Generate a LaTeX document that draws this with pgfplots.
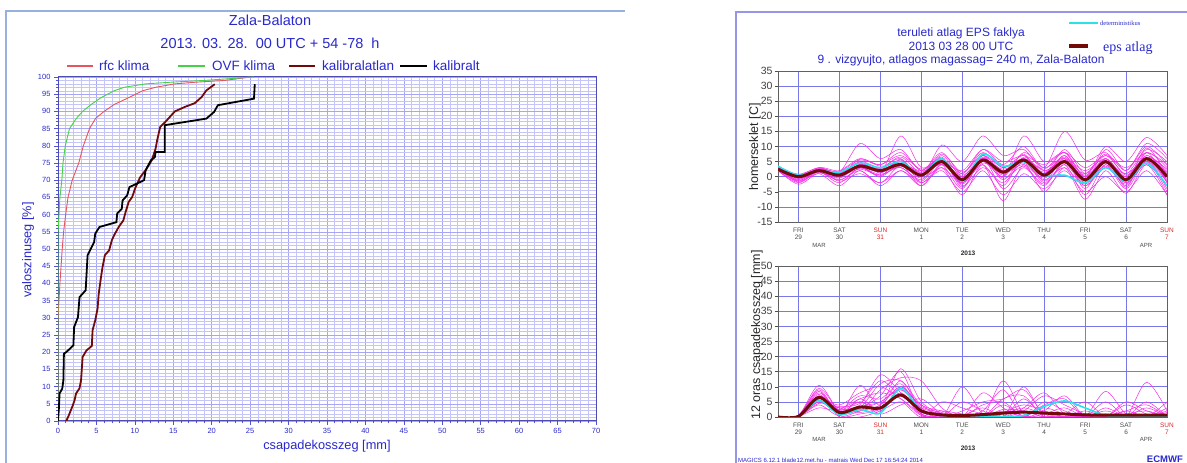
\documentclass[border=0pt]{standalone}
\usepackage{pgfplots}
\pgfplotsset{compat=1.18}
\usepackage{pgfplotstable}
\usepackage{fontspec}
\setmainfont{Liberation Sans}
\newfontfamily\seriffont{Liberation Serif}
\definecolor{tblue}{RGB}{40,40,205}
\definecolor{gridb}{RGB}{120,120,235}
\definecolor{gridl}{RGB}{150,150,240}
\definecolor{rfc}{RGB}{230,85,95}
\definecolor{ovf}{RGB}{70,210,70}
\definecolor{maroon}{RGB}{115,10,10}
\definecolor{ens}{RGB}{245,45,230}
\definecolor{det}{RGB}{40,225,235}
\definecolor{frameL}{RGB}{150,178,220}
\definecolor{frameR}{RGB}{150,150,230}
\definecolor{sunred}{RGB}{220,40,40}
\newcommand{\fs}[1]{\fontsize{#1}{#1}\selectfont}
\pgfplotsset{/pgf/number format/assume math mode=true}

\pgfplotstableread{
x y
0 0
0 30
0.25 40
0.55 50
0.73 55
1.0 60
1.3 65
1.85 70
2.7 75
3.3 80
4.1 85
4.9 88
6.0 90
7.3 92
9.2 94
11 96
12.7 97
15.2 98
18 98.5
21.7 99
25 100
}\rfcdata

\pgfplotstableread{
x y
0 0
0 55
0.13 60
0.25 65
0.5 70
0.65 75
0.95 80
1.5 85
2.4 88
3.2 90
4.3 92
5.6 94
7.3 96
8.6 97
11.4 98
14.8 98.5
19 99
25.5 100
}\ovfdata

\pgfplotstableread{
x y
1.07 0
1.4 1.6
1.85 4.1
2.15 6
2.35 8
2.8 9.5
3.0 11.8
3.2 18.6
3.7 20.5
4.4 21.8
4.5 26.4
4.85 29.3
5.15 32.7
5.3 37
5.6 41.9
5.8 44.8
6.1 48.2
6.65 49.6
7.0 52.5
7.3 54
7.9 56.4
8.5 58.3
8.8 60.8
9.2 63.7
9.65 65.1
10.1 68
10.7 70.9
11.4 72.9
12.2 75.8
12.7 79.2
12.9 81.6
13.3 85.5
13.95 86.9
15.2 90
16.5 91.3
17.8 92.4
18.7 94.2
19.3 96.1
20.4 97.9
}\kalatlan

\pgfplotstableread{
x y
0 0
0.13 4.1
0.2 8
0.55 9.4
0.7 11.8
0.77 19.6
1.07 20
2.0 22
2.1 27.3
2.6 30.2
2.8 36
3.6 38
3.85 48.2
4.7 52
4.85 54.5
5.4 56.4
7.6 57.8
7.7 60.3
8.3 61.7
8.4 64.1
9.0 65.6
9.3 68
11.2 70
11.4 72.9
12.1 75.8
12.6 76.7
12.7 78.2
13.9 78.2
13.9 86
19.3 87.9
20.3 89.8
20.8 91.8
25.5 93.7
25.6 97.9
}\kal

\pgfplotstableread{
h mean det m1 m2 m3 m4 m5 m6 m7 m8 m9 m10 m11 m12 m13 m14 m15 m16 m17 m18 m19 m20
12 2.5 3.5 3 2 3.5 2 2.8 2.2 3 2.5 2.3 2.7 2.4 2.6 2.1 3.2 2.9 2.4 2.0 3.3 2.6 3.1
24 0 0.5 -0.5 -2 0.5 -1.5 0 -0.5 0.8 -1 0.3 -0.3 -1.2 0.2 -2.5 0.6 -1.8 0.8 -0.8 0.1 -1.4 0.4
36 2 2 2.5 1.5 3 1 2 2.2 1.5 3 2.3 2.7 1.8 2.6 1.2 2.4 2.1 2.9 1.6 2.2 2.5 1.9
48 0.5 1.5 1.5 -2 1 -3 0 0.8 -1 2 -1.5 1.2 0.2 0.5 -0.5 1.8 0.6 1.4 -1.2 0.3 1.0 -0.3
60 3.5 4.5 11 3 5 2 4 3 2 6 1 4.5 2.5 4 3.5 5.5 4.8 3.8 2.8 5.8 3.2 4.2
72 2 3 6 1 3 -3 2 1.5 -2 4 -2 3 0.5 2.5 0 4 1.2 2.8 0.8 3.5 0.2 2.2
84 4 5 9 13.5 6 2 5 3 4 8 2 5 3.5 4.5 4 7 5.5 6.5 3 4.5 5.8 3.8
96 0.5 0.5 2 3 0 -3 1 -1 2 2 -2 0.5 -0.5 1.5 -3 2.5 0 1.2 -1.5 0.8 -2 0.3
108 5 6 8 6 10.5 3 4 5.5 6 4 2 7 3 5 4 5 6.5 4.5 5 7.5 4.2 5.8
120 -1 -1.5 1 -2 5 -6 -1 -3 1 -4 -5 0 -2 0 -1 2 -2.5 0.5 -2 1.5 -0.5 -3.5
132 5.5 7.5 9 7 13.5 4 6 3 8 6 2 5 4.5 7 6 9 6.5 5.5 4 7 5 6.2
144 1.5 3.5 4 0 7 -8 2 -2 3 -4 -6 0 1 3 -1 5 0.5 2.5 -3 2 1.5 -0.5
156 5.5 5 10 13.5 9 4 6 5 7 3 1 8 4 6 6 7 7.5 5 6.5 4.5 6 3.5
168 0.5 0.5 3 5 2 -5 1 -2 1 -3 -4 3 -1 2 0 4 -1.5 1.5 1 -0.5 2.5 -2.5
180 5 0.5 15 8 6 3 7 4 9 5 2 6 3 5 7 8 6 4.5 6.5 5.5 8 4
192 -1 -2 5.5 0 2 -7.5 -1 -6 1 -3 -5 -2 -3 0 -2 3 -4 0.5 -1.5 1 0 -2.5
204 5 3 8 10 6 2 5 4 7 4 0 9 3 6 6 7 6 4.5 3.5 7.5 5.5 4.8
216 -1 -1.5 2 5 0 -5.5 -1 -3 1 -4 -5 2 -2 0 -2 3 -3.5 1 -2.5 0.5 -1.5 -0.8
228 6 4.5 10 13 8 4 7 6 9 5 2 11 4 7 5 8 8 6 5.5 6.5 9.5 4.5
240 0 -3 4 7 3 -6 1 -2 5 -5 -6 6 -3 2 -1 4 -2 1.5 -4 2.5 0.5 -1.5
}\temps

\pgfplotstableread{
h mean det p1 p2 p3 p4 p5 p6 p7 p8 p9 p10 p11 p12 p13 p14 p15 p16 p17 p18
12 0 0 0 0 0 0 0 0 0 0 0 0 0 0 0 0 0 0 0 0
24 0.2 0.2 0.5 0.2 0.3 0.1 0.4 0 0.6 0.2 0.3 0.1 0.5 0.2 0.3 0.1 0.4 0.2 0.3 0.2
36 6.5 5.5 10.5 7 5 4 8 6 9 3 6.5 5 7.5 4.5 6 5.5 8.5 7 5 9.5
48 1.5 0.8 2 1 3 0.5 1.5 4 0.5 2 1 2.5 0 3.5 2.5 1.5 0.5 3 1 2
60 3.3 2.5 4 10.5 2 6 3 8 1 5 2.5 7 0 4.5 3.5 5 2 6 3 1.5
72 3 1.3 14 4 9 2 7 10 3 1 5 6 2 12 5 2.5 4 8 11 3
84 7.3 9.5 8 16 13 10 15 6 12 4 9 11 5 7 9 8 10 6 12 7.5
96 2 2 2 5 12 3 1 0.5 2 6 4 1.5 0 3 2.5 1 3.5 1 4 0.5
108 0.7 0.5 0.5 1 3 0 0.5 0 0 1 0 2 5 1 0.5 0 1.5 0 2 0
120 0.5 0 0 0 0 10 0 0 2 0 0 1 3 0 0 0.5 0 5 0 0
132 0.8 0 0 0 1 1 8 0 5 0 2 0 1 0 0 3 0 2 0 4
144 1.3 0.2 1 2 0 0 3 12 6 0 9 0 0 4 1.5 0 6 0 2.5 5
156 1.6 0.5 3 0 0 10 0 1 9 3 0 6 2 0 4 0 7 0 2 0
168 1.3 3.5 1 0 0 0 2 0 1 8 5 0 7 0 2 3 0 4 0 1
180 1 5.3 0 1 0 0 7 0 0 1 2 0 4 0 0 1 0 6 0 3
192 0.7 3 0 5 0 0 0 0 0 0 0 0 1 0 0 0 2 0 0 0
204 0.6 0.5 1 0 0 8.5 0 0 2 0 0 0 0 5 0 0 0 3 0 1
216 0.6 0 0 0 4 1 0 5 0 0 2 0 0 0 2 0 0 0 1 0
228 0.6 0 0 11.5 1 0 0 2 0 0 4 0 3 0 0 5 0 0 2 0
240 0.6 0 0 2 0 5 0 0 3 0 0 1 0 0 1 0 0 2 0 1.5
}\precip

\pgfplotsset{
  ecm/.style={
    anchor=south west, scale only axis, width=389pt, height=151pt,
    xmin=12, xmax=240,
    xtick={24,48,...,240},
    xticklabels={{FRI\\29},{SAT\\30},{\textcolor{sunred}{SUN}\\\textcolor{sunred}{31}},{MON\\1},{TUE\\2},{WED\\3},{THU\\4},{FRI\\5},{SAT\\6},{\textcolor{sunred}{SUN}\\\textcolor{sunred}{7}}},
    grid=major,
    major grid style={gridb, line width=0.7pt},
    axis line style={gray!75!black, line width=0.8pt},
    xtick pos=bottom, ytick pos=left,
    tick align=outside, major tick length=3pt,
    xtick style={draw=none},
    ytick style={gray!60!black, line width=0.5pt},
    xticklabel style={font=\fontsize{6.5}{7}\selectfont, align=center, text=black!70, yshift=1pt},
    yticklabel style={font=\fs{10.5}, text=black!75, xshift=1pt},
    ytick distance=5,
  },
  ensl/.style={ens, line width=0.5pt, smooth},
  meanl/.style={maroon, line width=3pt, smooth},
  detl/.style={det, line width=1.6pt, smooth},
}

\begin{document}
\begin{tikzpicture}[x=1pt,y=1pt]
\path[use as bounding box] (0,0) rectangle (1187,463);

% ---------- left panel ----------
\draw[frameL, line width=2pt] (6,-2) -- (6,452) -- (625,452);
\node[text=tblue, font=\fs{14.5}] at (270,443) {Zala-Balaton};
\node[text=tblue, font=\fs{14.5}] at (270,420) {2013. 03. 28.\ \ 00 UTC + 54 -78\ \ h};

\begin{axis}[
  at={(58pt,42pt)}, anchor=south west, scale only axis,
  width=538pt, height=344pt,
  xmin=0, xmax=70, ymin=0, ymax=100,
  xtick distance=5, ytick distance=5,
  minor x tick num=4, minor y tick num=4,
  grid=both,
  major grid style={gridl!85, line width=0.55pt},
  minor grid style={gridl!55, line width=0.45pt},
  tick pos=left,
  tick align=outside, major tick length=4pt, minor tick length=2.5pt,
  tick style={tblue!80, line width=0.5pt},
  axis line style={gray!60!blue, line width=1pt},
  ticklabel style={font=\fs{7.5}, text=tblue},
]
\addplot[rfc, line width=0.9pt] table[x=x,y=y]{\rfcdata};
\addplot[ovf, line width=0.9pt] table[x=x,y=y]{\ovfdata};
\addplot[maroon, line width=1.8pt] table[x=x,y=y]{\kalatlan};
\addplot[black, line width=1.8pt] table[x=x,y=y]{\kal};
\end{axis}

% legend (left)
\draw[rfc, line width=1.2pt] (67,397) -- (93,397);
\node[anchor=west, text=tblue, font=\fs{13.5}, inner sep=0] at (99,397) {rfc klima};
\draw[ovf, line width=1.2pt] (178,397) -- (205,397);
\node[anchor=west, text=tblue, font=\fs{13.5}, inner sep=0] at (212,397) {OVF klima};
\draw[maroon, line width=1.6pt] (289,397) -- (315,397);
\node[anchor=west, text=tblue, font=\fs{13.5}, inner sep=0] at (322,397) {kalibralatlan};
\draw[black, line width=1.6pt] (400,397) -- (427,397);
\node[anchor=west, text=tblue, font=\fs{13.5}, inner sep=0] at (433,397) {kalibralt};

\node[rotate=90, text=tblue, font=\fs{12.7}] at (28,213) {valoszinuseg [\%]};
\node[text=tblue, font=\fs{12.8}] at (327,17) {csapadekosszeg [mm]};

% ---------- right panel ----------
\draw[frameR, line width=1.2pt] (736,-2) -- (736,451) -- (1190,451);
\node[text=tblue, font=\fs{12}] at (961,430) {teruleti atlag EPS faklya};
\node[text=tblue, font=\fs{12}] at (961,417) {2013 03 28 00 UTC};
\node[text=tblue, font=\fs{12}] at (961,403) {9 . vizgyujto, atlagos magassag= 240 m, Zala-Balaton};

\draw[det, line width=2pt] (1069,440) -- (1098,440);
\node[anchor=west, inner sep=0, text=tblue, font=\seriffont\fs{6.5}] at (1100,439.5) {deterministikus};
\draw[maroon, line width=3.2pt] (1069,417) -- (1088,417);
\node[anchor=west, inner sep=0, text=tblue, font=\seriffont\fs{14}] at (1103,415) {eps atlag};

\begin{axis}[ecm, at={(778pt,241pt)}, ymin=-15, ymax=35]
\pgfplotsinvokeforeach{1,...,20}{\addplot[ensl] table[x=h,y=m#1]{\temps};}
\addplot[detl] table[x=h,y=det]{\temps};
\addplot[meanl] table[x=h,y=mean]{\temps};
\end{axis}

\begin{axis}[ecm, at={(778pt,46pt)}, ymin=0, ymax=50]
\pgfplotsinvokeforeach{1,...,18}{\addplot[ensl] table[x=h,y=p#1]{\precip};}
\addplot[detl] table[x=h,y=det]{\precip};
\addplot[meanl] table[x=h,y=mean]{\precip};
\end{axis}

\node[rotate=90, text=black!85, font=\fs{12.5}] at (755,316) {homerseklet [C]};
\node[rotate=90, text=black!85, font=\fs{12.5}] at (757,128) {12 oras csapadekosszeg [mm]};

\node[text=black!70, font=\fs{6}] at (819,218) {MAR};
\node[text=black!70, font=\fs{6}] at (1146,218) {APR};
\node[text=black!85, font=\bfseries\fs{6.5}] at (968,210) {2013};
\node[text=black!70, font=\fs{6}] at (819,24) {MAR};
\node[text=black!70, font=\fs{6}] at (1146,24) {APR};
\node[text=black!85, font=\bfseries\fs{6.5}] at (968,15) {2013};

\node[anchor=south west, inner sep=0, text=tblue, font=\fs{6}] at (738,0) {MAGICS 6.12.1 blade12.met.hu - matrais Wed Dec 17 16:54:24 2014};
\node[anchor=south east, inner sep=0, text=tblue, font=\bfseries\fs{9.5}] at (1183,0) {ECMWF};
\end{tikzpicture}
\end{document}
